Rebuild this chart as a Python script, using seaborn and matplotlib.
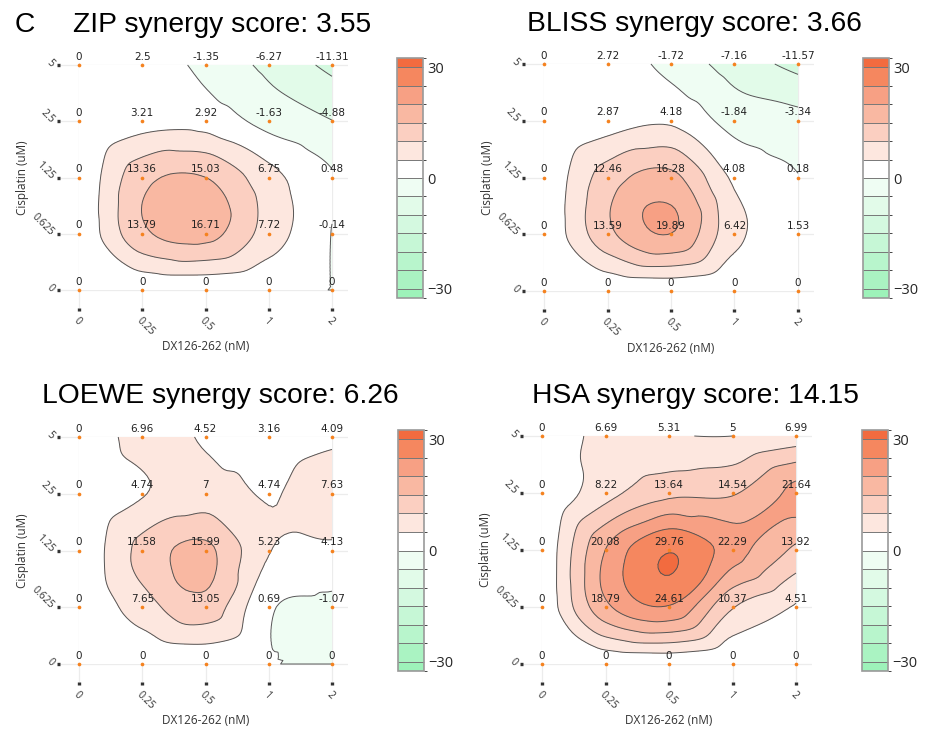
import numpy as np
import pandas as pd
import matplotlib
matplotlib.use("Agg")
import matplotlib.pyplot as plt
import matplotlib.tri as mtri
from matplotlib.colors import ListedColormap, BoundaryNorm
from matplotlib.cm import ScalarMappable
import seaborn as sns

sns.set_style("white")
plt.rcParams['font.family'] = ['Open Sans', 'DejaVu Sans']

# doses (plotted on evenly spaced positions)
dx_doses = ["0", "0.25", "0.5", "1", "2"]
cis_doses = ["0", "0.625", "1.25", "2.5", "5"]

# rows: cisplatin 0 -> 5 ; columns: DX126-262 0 -> 2
zip_scores = [[0, 0, 0, 0, 0],
              [0, 13.79, 16.71, 7.72, -0.14],
              [0, 13.36, 15.03, 6.75, 0.48],
              [0, 3.21, 2.92, -1.63, -4.88],
              [0, 2.5, -1.35, -6.27, -11.31]]
bliss_scores = [[0, 0, 0, 0, 0],
                [0, 13.59, 19.89, 6.42, 1.53],
                [0, 12.46, 16.28, 4.08, 0.18],
                [0, 2.87, 4.18, -1.84, -3.34],
                [0, 2.72, -1.72, -7.16, -11.57]]
loewe_scores = [[0, 0, 0, 0, 0],
                [0, 7.65, 13.05, 0.69, -1.07],
                [0, 11.58, 15.99, 5.23, 4.13],
                [0, 4.74, 7, 4.74, 7.63],
                [0, 6.96, 4.52, 3.16, 4.09]]
hsa_scores = [[0, 0, 0, 0, 0],
              [0, 18.79, 24.61, 10.37, 4.51],
              [0, 20.08, 29.76, 22.29, 13.92],
              [0, 8.22, 13.64, 14.54, 21.64],
              [0, 6.69, 5.31, 5, 6.99]]

titles = ["ZIP synergy score: 3.55", "BLISS synergy score: 3.66",
          "LOEWE synergy score: 6.26", "HSA synergy score: 14.15"]
all_scores = [zip_scores, bliss_scores, loewe_scores, hsa_scores]

# colour bands
bounds = [-32.5, -30, -25, -20, -15, -10, -5, 0, 5, 10, 15, 20, 25, 30, 32.5]
band_colors = ['#9df2b9', '#aaf3c2', '#b8f5cc', '#c6f7d6', '#d4f9e0', '#e2fbe9', '#effdf3',
               '#ffffff', '#fde7df', '#fbcfc1', '#f9b8a2', '#f7a084', '#f5875f', '#f26b3f']
cmap = ListedColormap(band_colors)
norm = BoundaryNorm(bounds, cmap.N)
line_levels = np.arange(-30, 31, 5)

W, H = 926, 730
fig = plt.figure(figsize=(W / 100, H / 100), dpi=100)

XL = (-0.30, 4.25)
YL = (-0.32, 4.03)

# pixel layout: x of dose0, x of dose4, y of top row, y of bottom row, colorbar box, title pos
layout = [
    (79, 332, 65, 290, (397, 58, 423, 298), (73, 32)),
    (544, 798, 64, 291, (863, 58, 889, 298), (527, 31)),
    (79, 332, 437, 664, (398, 430, 424, 671), (42, 403)),
    (542, 796, 436, 664, (862, 430, 888, 671), (532, 403)),
]

xi, yi = np.meshgrid(np.arange(5), np.arange(5))
tri = mtri.Triangulation(xi.ravel().astype(float), yi.ravel().astype(float))
refiner = mtri.UniformTriRefiner(tri)

for scores, title, (x0, x4, y4, y0, cb, tpos) in zip(all_scores, titles, layout):
    z = np.array(scores, dtype=float)
    ux = (x4 - x0) / 4
    uy = (y0 - y4) / 4
    left = x0 + XL[0] * ux
    right = x0 + XL[1] * ux
    bottom = y0 - YL[0] * uy
    top = y0 - YL[1] * uy
    ax = fig.add_axes([left / W, 1 - bottom / H, (right - left) / W, (bottom - top) / H])

    # smooth surface: cubic interpolation with grid gradients
    dzdy, dzdx = np.gradient(z)
    interp = mtri.CubicTriInterpolator(tri, z.ravel(), kind='user',
                                       dz=(dzdx.ravel(), dzdy.ravel()))
    tri_f, z_f = refiner.refine_field(z.ravel(), triinterpolator=interp, subdiv=4)
    ax.tricontourf(tri_f, z_f, levels=bounds, cmap=cmap, norm=norm, zorder=1)
    ax.tricontour(tri_f, z_f, levels=line_levels, colors='#555555', linewidths=0.7,
                  linestyles='solid', zorder=2)

    pts = pd.DataFrame({"x": xi.ravel(), "y": yi.ravel(), "v": z.ravel()})
    sns.scatterplot(data=pts, x="x", y="y", ax=ax, color='#f5821f', s=7,
                    linewidth=0, zorder=3, legend=False)
    for _, r in pts.iterrows():
        ax.annotate(f"{r.v:g}", (r.x, r.y), xytext=(0, 2.5), textcoords='offset points',
                    ha='center', va='bottom', fontsize=7.5, family='DejaVu Sans',
                    color='#222222', zorder=4)

    ax.set_xlim(*XL)
    ax.set_ylim(*YL)
    ax.set_xlabel("")
    ax.set_ylabel("")
    for s in ax.spines.values():
        s.set_visible(False)
    ax.grid(True, color='#ececec', linewidth=0.9)
    ax.set_axisbelow(True)
    ax.set_xticks(range(5))
    ax.set_yticks(range(5))
    ax.set_xticklabels(dx_doses, rotation=-45, ha='left', va='top',
                       rotation_mode='anchor', fontsize=7.5, color='#333333')
    ax.set_yticklabels(cis_doses, rotation=-45, ha='right', va='center',
                       rotation_mode='anchor', fontsize=7.5, color='#333333')
    ax.tick_params(axis='both', direction='out', length=2.4, width=2.4,
                   color='#333333', pad=3, left=True, bottom=True)

    fig.text((x0 - 56) / W, 1 - ((y0 + y4) / 2) / H, "Cisplatin (uM)", rotation=90,
             ha='center', va='center', fontsize=8.5, color='#333333')
    fig.text(((x0 + x4) / 2) / W, 1 - (y0 + 57) / H, "DX126-262 (nM)",
             ha='center', va='center', fontsize=8.5, color='#333333')

    fig.text(tpos[0] / W, 1 - tpos[1] / H, title, ha='left', va='baseline',
             fontsize=20.3, family='Liberation Sans', color='black')

    cax = fig.add_axes([cb[0] / W, 1 - cb[3] / H, (cb[2] - cb[0]) / W, (cb[3] - cb[1]) / H])
    cbar = fig.colorbar(ScalarMappable(norm=norm, cmap=cmap), cax=cax, ticks=[-30, 0, 30],
                        spacing='proportional', drawedges=True)
    cbar.outline.set_edgecolor('#999999')
    cbar.outline.set_linewidth(1.2)
    cbar.dividers.set_color('#777777')
    cbar.dividers.set_linewidth(0.7)
    cbar.ax.tick_params(length=0, pad=3, labelsize=10.5)

fig.text(15 / W, 1 - 32 / H, "C", ha='left', va='baseline', fontsize=20.3,
         family='Liberation Sans', color='black')

fig.savefig("out.png", dpi=100)
